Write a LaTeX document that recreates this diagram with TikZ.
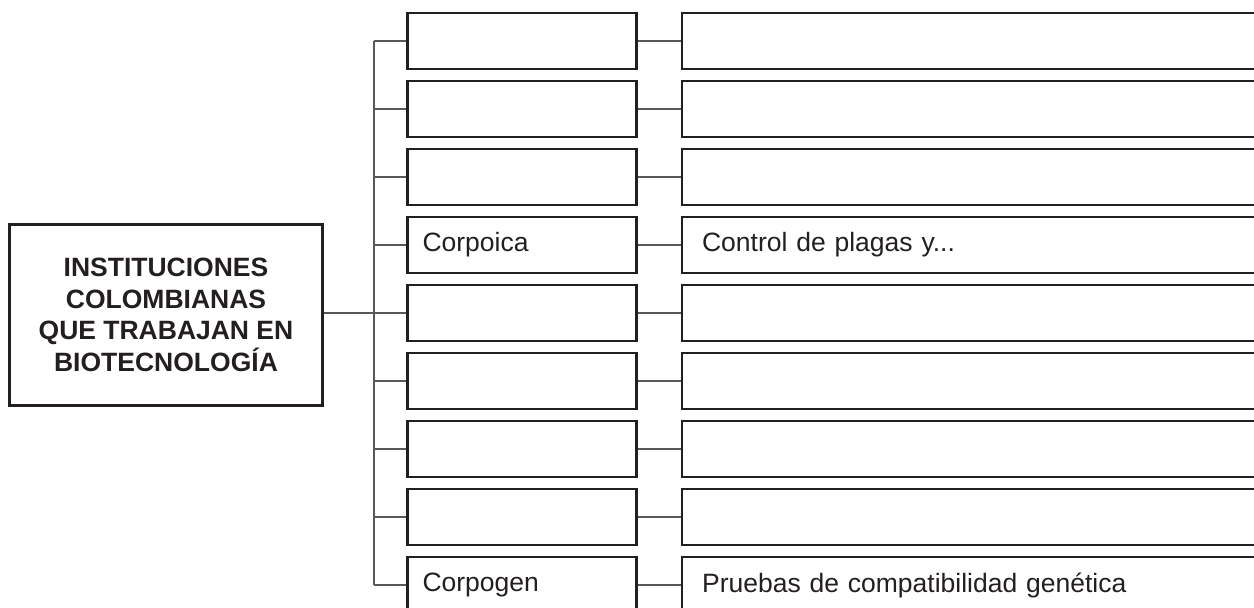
\documentclass[tikz,border=0pt]{standalone}
\usepackage{fontspec}
\setmainfont{Liberation Sans}
\usetikzlibrary{positioning}
\definecolor{ink}{HTML}{231F20}

\tikzset{
  box/.style={draw=ink, line width=2.6pt, inner sep=0pt, text=ink,
    font=\fontsize{26.5}{31.5}\selectfont},
  rootbox/.style={box, minimum width=313pt, minimum height=181pt,
    align=center, font=\fontsize{26.5}{31.5}\selectfont\bfseries},
  instbox/.style={box, minimum height=56pt, text width=199pt,
    inner xsep=15pt, align=left},
  areabox/.style={box, minimum height=56pt, text width=570pt,
    inner xsep=20pt, align=left},
  link/.style={draw=ink!75, line width=1.3pt}
}

\begin{document}
\begin{tikzpicture}[x=1pt, y=-1pt]
  \useasboundingbox (0,0) rectangle (1254,608);
  \clip (0,0) rectangle (1254,608);

  \node[rootbox] (Root) at (166,315)
    {INSTITUCIONES\\COLOMBIANAS\\QUE TRABAJAN EN\\BIOTECNOLOGÍA};
  \coordinate (Trunk) at (374,0);

  \foreach \i/\inst/\area in {1/{}/{}, 2/{}/{}, 3/{}/{},
      4/{Corpoica}/{Control de plagas y...}, 5/{}/{}, 6/{}/{},
      7/{}/{}, 8/{}/{}, 9/{Corpogen}/{Pruebas de compatibilidad genética}} {
    \node[instbox] (Inst\i) at (522,{41+68*(\i-1)}) {\inst};
    \node[areabox, right=43pt of Inst\i] (Area\i) {\area};
    \draw[link] (Inst\i.west -| Trunk) -- (Inst\i.west);
    \draw[link] (Inst\i.east) -- (Area\i.west);
  }

  \draw[link] (Inst1.west -| Trunk) -- (Inst9.west -| Trunk);
  \draw[link] (Root.east |- Inst5.west) -- (Inst5.west -| Trunk);
\end{tikzpicture}
\end{document}
